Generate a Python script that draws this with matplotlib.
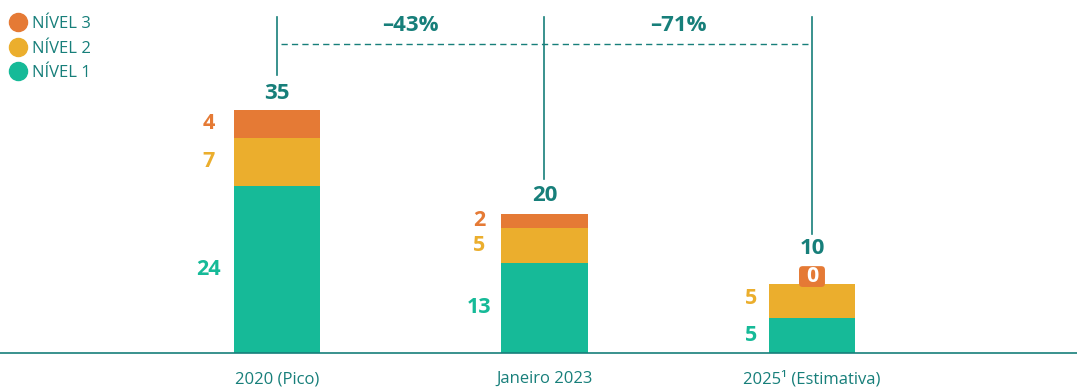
import matplotlib.pyplot as plt
from matplotlib.lines import Line2D
from matplotlib.patches import FancyBboxPatch

plt.rcParams['font.family'] = ['Open Sans', 'DejaVu Sans']

# data
categories = ["2020 (Pico)", "Janeiro 2023", "2025¹ (Estimativa)"]
nivel1 = [24, 13, 5]
nivel2 = [7, 5, 5]
nivel3 = [4, 2, 0]
totals = [35, 20, 10]
changes = ["–43%", "–71%"]

c1 = "#16BA98"
c2 = "#EBAE2D"
c3 = "#E57A35"
teal = "#177F7A"

fig = plt.figure(figsize=(10.77, 3.91), dpi=100)
ax = fig.add_axes([0, 0.0972, 1, 0.9028])
x = list(range(len(categories)))
w = 0.325

bottom2 = [a for a in nivel1]
bottom3 = [a + b for a, b in zip(nivel1, nivel2)]
ax.bar(x, nivel1, w, color=c1, zorder=2)
ax.bar(x, nivel2, w, bottom=bottom2, color=c2, zorder=2)
ax.bar(x, nivel3, w, bottom=bottom3, color=c3, zorder=2)

ax.set_xlim(-1.0355, 2.9907)
ax.set_ylim(0, 50.8)

fs = 15.5
gaps = [0.092, 0.082, 0.064]
tot_off = [2.3, 2.7, 5.0]
# segment labels to the left of the bars
for i in x:
    lx = i - w / 2 - gaps[i]
    ax.text(lx, nivel1[i] / 2, str(nivel1[i]), color=c1, fontsize=fs,
            fontweight="bold", ha="center", va="center")
    if nivel3[i] > 0:
        ax.text(lx, bottom2[i] + nivel2[i] / 2, str(nivel2[i]), color=c2,
                fontsize=fs, fontweight="bold", ha="center", va="center")
        ax.text(lx, bottom3[i] + nivel3[i] / 2, str(nivel3[i]), color=c3,
                fontsize=fs, fontweight="bold", ha="center", va="center")
    else:
        ax.text(lx, bottom2[i] + nivel2[i] / 2 + 0.3, str(nivel2[i]), color=c2,
                fontsize=fs, fontweight="bold", ha="center", va="center")
        bw, bh = 0.097, 3.0
        yc = bottom3[i] + 1.0
        box = FancyBboxPatch((i - bw / 2, yc - bh / 2), bw, bh,
                             boxstyle="round,pad=0,rounding_size=0.014",
                             mutation_aspect=38.5, fc=c3, ec="none", zorder=3)
        ax.add_patch(box)
        ax.text(i, yc, str(nivel3[i]), color="white", fontsize=fs,
                fontweight="bold", ha="center", va="center", zorder=4)
    # total
    ax.text(i, totals[i] + tot_off[i], str(totals[i]),
            color=teal, fontsize=16, fontweight="bold", ha="center", va="center")

# vertical connector lines
tops = [40.0, 25.1, 17.1]
for i in x:
    ax.plot([i, i], [tops[i], 48.4], color=teal, lw=1.2, zorder=1)
ax.plot([0.015, 1.985], [44.4, 44.4], color=teal, lw=1.0,
        dashes=(4.5, 3), zorder=1)
for k, lab in enumerate(changes):
    ax.text(k + 0.5, 47.2, lab, color=teal, fontsize=16, fontweight="bold",
            ha="center", va="center")

# baseline and ticks
for s in ["top", "right", "left"]:
    ax.spines[s].set_visible(False)
ax.spines["bottom"].set_color(teal)
ax.spines["bottom"].set_linewidth(1.2)
ax.set_yticks([])
ax.set_xticks(x)
ax.set_xticklabels(categories, color=teal, fontsize=12)
ax.tick_params(axis="x", length=0, pad=13)

# legend
handles = [Line2D([], [], marker="o", ls="", ms=13, color=c) for c in [c3, c2, c1]]
leg = fig.legend(handles, ["NÍVEL 3", "NÍVEL 2", "NÍVEL 1"], loc="upper left",
                 bbox_to_anchor=(-0.007, 0.997), frameon=False, handletextpad=0.15,
                 labelspacing=0.5, fontsize=12, handlelength=1.3)
for t in leg.get_texts():
    t.set_color(teal)

fig.savefig("out.png", dpi=100)
